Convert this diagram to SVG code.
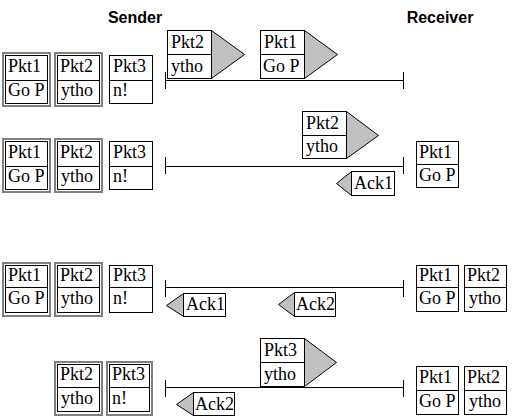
<svg xmlns="http://www.w3.org/2000/svg" width="512" height="419" viewBox="0 0 512 419">
<style>
.bg{fill:#ffffff}
.box{fill:#ffffff;stroke:#000000;stroke-width:1}
.dv{stroke:#000000;stroke-width:1}
.gray{fill:none;stroke:#808080;stroke-width:2}
.tri{fill:#c0c0c0;stroke:#000000;stroke-width:1;stroke-linejoin:miter}
.ln{stroke:#000000;stroke-width:1;fill:none}
.t{font-size:18px;fill:#000000}
.h{font-size:16px;font-weight:bold;fill:#000000;text-anchor:middle}
</style>
<rect class="bg" x="0" y="0" width="512" height="419"/>
<text class="h" style="font-family:'Liberation Sans',sans-serif" x="135" y="23">Sender</text>
<text class="h" style="font-family:'Liberation Sans',sans-serif" x="440" y="23">Receiver</text>

<g id="r1-s-pkt1">
<rect class="gray" x="3" y="53" width="47" height="53"/>
<rect class="box" x="5.5" y="55.5" width="42" height="48"/>
<line class="dv" x1="5.5" y1="80.5" x2="47.5" y2="80.5"/>
<text class="t" style="font-family:'Liberation Serif',serif" x="8" y="72">Pkt1</text><text class="t" style="font-family:'Liberation Serif',serif" x="8" y="96">Go P</text>
</g>
<g id="r1-s-pkt2">
<rect class="gray" x="55" y="53" width="47" height="53"/>
<rect class="box" x="57.5" y="55.5" width="42" height="48"/>
<line class="dv" x1="57.5" y1="80.5" x2="99.5" y2="80.5"/>
<text class="t" style="font-family:'Liberation Serif',serif" x="60" y="72">Pkt2</text><text class="t" style="font-family:'Liberation Serif',serif" x="61" y="96">ytho</text>
</g>
<g id="r1-s-pkt3">
<rect class="box" x="109.5" y="55.5" width="43" height="48"/>
<line class="dv" x1="109.5" y1="80.5" x2="152.5" y2="80.5"/>
<text class="t" style="font-family:'Liberation Serif',serif" x="113" y="72">Pkt3</text><text class="t" style="font-family:'Liberation Serif',serif" x="113" y="96">n!</text>
</g>
<g id="r1-f-pkt2">
<polygon class="tri" points="211.5,30.5 244.5,54.5 211.5,78.5"/>
<rect class="box" x="167.5" y="30.5" width="44" height="48"/>
<line class="dv" x1="167.5" y1="54.5" x2="211.5" y2="54.5"/>
<text class="t" style="font-family:'Liberation Serif',serif" x="171" y="48">Pkt2</text><text class="t" style="font-family:'Liberation Serif',serif" x="171" y="72">ytho</text>
</g>
<g id="r1-f-pkt1">
<polygon class="tri" points="304.5,30.5 337.5,54.5 304.5,78.5"/>
<rect class="box" x="260.5" y="30.5" width="44" height="48"/>
<line class="dv" x1="260.5" y1="54.5" x2="304.5" y2="54.5"/>
<text class="t" style="font-family:'Liberation Serif',serif" x="264" y="48">Pkt1</text><text class="t" style="font-family:'Liberation Serif',serif" x="263" y="72">Go P</text>
</g>

<g id="r2-s-pkt1">
<rect class="gray" x="3" y="139" width="47" height="53"/>
<rect class="box" x="5.5" y="141.5" width="42" height="48"/>
<line class="dv" x1="5.5" y1="166.5" x2="47.5" y2="166.5"/>
<text class="t" style="font-family:'Liberation Serif',serif" x="8" y="158">Pkt1</text><text class="t" style="font-family:'Liberation Serif',serif" x="8" y="182">Go P</text>
</g>
<g id="r2-s-pkt2">
<rect class="gray" x="55" y="139" width="47" height="53"/>
<rect class="box" x="57.5" y="141.5" width="42" height="48"/>
<line class="dv" x1="57.5" y1="166.5" x2="99.5" y2="166.5"/>
<text class="t" style="font-family:'Liberation Serif',serif" x="60" y="158">Pkt2</text><text class="t" style="font-family:'Liberation Serif',serif" x="61" y="182">ytho</text>
</g>
<g id="r2-s-pkt3">
<rect class="box" x="109.5" y="141.5" width="43" height="48"/>
<line class="dv" x1="109.5" y1="166.5" x2="152.5" y2="166.5"/>
<text class="t" style="font-family:'Liberation Serif',serif" x="113" y="158">Pkt3</text><text class="t" style="font-family:'Liberation Serif',serif" x="113" y="182">n!</text>
</g>
<g id="r2-f-pkt2">
<polygon class="tri" points="346.5,111.5 378.5,135.5 346.5,158.5"/>
<rect class="box" x="302.5" y="111.5" width="44" height="47"/>
<line class="dv" x1="302.5" y1="135.5" x2="346.5" y2="135.5"/>
<text class="t" style="font-family:'Liberation Serif',serif" x="306" y="129">Pkt2</text><text class="t" style="font-family:'Liberation Serif',serif" x="306" y="152">ytho</text>
</g>
<g id="r2-ack1">
<polygon class="tri" points="351.5,171.5 336.5,183.5 351.5,195.5"/>
<rect class="box" x="351.5" y="171.5" width="43" height="24"/>
<text class="t" style="font-family:'Liberation Serif',serif" x="354" y="189">Ack1</text>
</g>
<g id="r2-r-pkt1">
<rect class="box" x="416.5" y="141.5" width="42" height="46"/>
<line class="dv" x1="416.5" y1="164.5" x2="458.5" y2="164.5"/>
<text class="t" style="font-family:'Liberation Serif',serif" x="419" y="158">Pkt1</text><text class="t" style="font-family:'Liberation Serif',serif" x="419" y="181">Go P</text>
</g>

<g id="r3-s-pkt1">
<rect class="gray" x="3" y="263" width="47" height="53"/>
<rect class="box" x="5.5" y="265.5" width="42" height="47"/>
<line class="dv" x1="5.5" y1="287.5" x2="47.5" y2="287.5"/>
<text class="t" style="font-family:'Liberation Serif',serif" x="8" y="281">Pkt1</text><text class="t" style="font-family:'Liberation Serif',serif" x="8" y="304">Go P</text>
</g>
<g id="r3-s-pkt2">
<rect class="gray" x="55" y="263" width="47" height="53"/>
<rect class="box" x="57.5" y="265.5" width="42" height="47"/>
<line class="dv" x1="57.5" y1="287.5" x2="99.5" y2="287.5"/>
<text class="t" style="font-family:'Liberation Serif',serif" x="60" y="281">Pkt2</text><text class="t" style="font-family:'Liberation Serif',serif" x="61" y="304">ytho</text>
</g>
<g id="r3-s-pkt3">
<rect class="box" x="109.5" y="265.5" width="43" height="47"/>
<line class="dv" x1="109.5" y1="287.5" x2="152.5" y2="287.5"/>
<text class="t" style="font-family:'Liberation Serif',serif" x="113" y="281">Pkt3</text><text class="t" style="font-family:'Liberation Serif',serif" x="113" y="304">n!</text>
</g>
<g id="r3-ack1">
<polygon class="tri" points="183.5,293.5 166.5,305.5 183.5,316.5"/>
<rect class="box" x="183.5" y="293.5" width="42" height="23"/>
<text class="t" style="font-family:'Liberation Serif',serif" x="186" y="310">Ack1</text>
</g>
<g id="r3-ack2">
<polygon class="tri" points="294.5,292.5 278.5,304.5 294.5,316.5"/>
<rect class="box" x="294.5" y="292.5" width="41" height="24"/>
<text class="t" style="font-family:'Liberation Serif',serif" x="296" y="310">Ack2</text>
</g>
<g id="r3-r-pkt1">
<rect class="box" x="416.5" y="265.5" width="42" height="46"/>
<line class="dv" x1="416.5" y1="287.5" x2="458.5" y2="287.5"/>
<text class="t" style="font-family:'Liberation Serif',serif" x="419" y="281">Pkt1</text><text class="t" style="font-family:'Liberation Serif',serif" x="419" y="304">Go P</text>
</g>
<g id="r3-r-pkt2">
<rect class="box" x="464.5" y="265.5" width="42" height="46"/>
<line class="dv" x1="464.5" y1="287.5" x2="506.5" y2="287.5"/>
<text class="t" style="font-family:'Liberation Serif',serif" x="467" y="281">Pkt2</text><text class="t" style="font-family:'Liberation Serif',serif" x="469" y="304">ytho</text>
</g>

<g id="r4-s-pkt2">
<rect class="gray" x="55" y="362" width="47" height="53"/>
<rect class="box" x="57.5" y="364.5" width="42" height="47"/>
<line class="dv" x1="57.5" y1="387.5" x2="99.5" y2="387.5"/>
<text class="t" style="font-family:'Liberation Serif',serif" x="60" y="380">Pkt2</text><text class="t" style="font-family:'Liberation Serif',serif" x="61" y="404">ytho</text>
</g>
<g id="r4-s-pkt3">
<rect class="gray" x="107" y="362" width="45" height="53"/>
<rect class="box" x="109.5" y="364.5" width="40" height="47"/>
<line class="dv" x1="109.5" y1="387.5" x2="149.5" y2="387.5"/>
<text class="t" style="font-family:'Liberation Serif',serif" x="112" y="380">Pkt3</text><text class="t" style="font-family:'Liberation Serif',serif" x="112" y="404">n!</text>
</g>
<g id="r4-f-pkt3">
<polygon class="tri" points="304.5,338.5 336.5,362.5 304.5,386.5"/>
<rect class="box" x="260.5" y="338.5" width="44" height="48"/>
<line class="dv" x1="260.5" y1="362.5" x2="304.5" y2="362.5"/>
<text class="t" style="font-family:'Liberation Serif',serif" x="264" y="356">Pkt3</text><text class="t" style="font-family:'Liberation Serif',serif" x="264" y="380">ytho</text>
</g>
<g id="r4-ack2">
<polygon class="tri" points="193.5,392.5 176.5,404.5 193.5,415.5"/>
<rect class="box" x="193.5" y="392.5" width="41" height="23"/>
<text class="t" style="font-family:'Liberation Serif',serif" x="195" y="410">Ack2</text>
</g>
<g id="r4-r-pkt1">
<rect class="box" x="416.5" y="366.5" width="42" height="48"/>
<line class="dv" x1="416.5" y1="390.5" x2="458.5" y2="390.5"/>
<text class="t" style="font-family:'Liberation Serif',serif" x="419" y="383">Pkt1</text><text class="t" style="font-family:'Liberation Serif',serif" x="419" y="407">Go P</text>
</g>
<g id="r4-r-pkt2">
<rect class="box" x="464.5" y="366.5" width="42" height="48"/>
<line class="dv" x1="464.5" y1="390.5" x2="506.5" y2="390.5"/>
<text class="t" style="font-family:'Liberation Serif',serif" x="467" y="383">Pkt2</text><text class="t" style="font-family:'Liberation Serif',serif" x="469" y="407">ytho</text>
</g>

<g id="connectors">
<path class="ln" d="M165.5,72 V89 M165.5,80.5 H403.5 M403.5,72 V89"/>
<path class="ln" d="M165.5,157 V174 M165.5,166.5 H403.5 M403.5,157 V174"/>
<path class="ln" d="M165.5,280 V297 M165.5,287.5 H403.5 M403.5,280 V297"/>
<path class="ln" d="M165.5,380 V397 M165.5,387.5 H403.5 M403.5,380 V397"/>
</g>
</svg>
